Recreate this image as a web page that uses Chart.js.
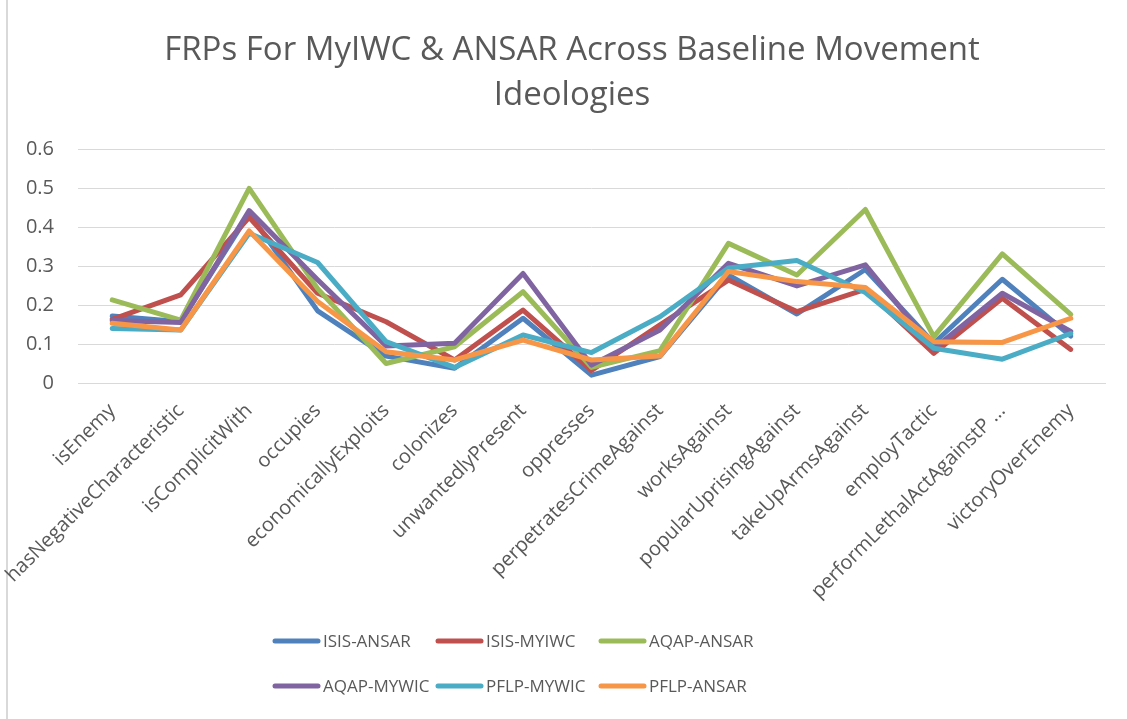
<!DOCTYPE html>
<html>
<head>
<meta charset="utf-8">
<title>FRPs For MyIWC & ANSAR</title>
<script src="https://cdn.jsdelivr.net/npm/chart.js@4.4.1/dist/chart.umd.min.js"></script>
<style>
  html, body { margin: 0; padding: 0; background: #fff; }
  #wrap { width: 1127px; height: 719px; position: relative; }
</style>
</head>
<body>
<div id="wrap"><canvas id="chart"></canvas></div>
<script>
const categories = [
  'isEnemy', 'hasNegativeCharacteristic', 'isComplicitWith', 'occupies',
  'economicallyExploits', 'colonizes', 'unwantedlyPresent', 'oppresses',
  'perpetratesCrimeAgainst', 'worksAgainst', 'popularUprisingAgainst',
  'takeUpArmsAgainst', 'employTactic', 'performLethalActAgainstP …', 'victoryOverEnemy'
];

const isisAnsar  = [0.172, 0.157, 0.435, 0.185, 0.069, 0.038, 0.166, 0.020, 0.068, 0.277, 0.177, 0.291, 0.102, 0.266, 0.120];
const isisMyiwc  = [0.163, 0.226, 0.425, 0.230, 0.157, 0.059, 0.187, 0.032, 0.149, 0.264, 0.183, 0.240, 0.076, 0.217, 0.086];
const aqapAnsar  = [0.213, 0.161, 0.499, 0.242, 0.050, 0.093, 0.234, 0.040, 0.083, 0.358, 0.277, 0.445, 0.119, 0.331, 0.176];
const aqapMywic  = [0.160, 0.155, 0.442, 0.265, 0.095, 0.102, 0.281, 0.046, 0.136, 0.307, 0.249, 0.303, 0.088, 0.230, 0.132];
const pflpMywic  = [0.140, 0.136, 0.384, 0.309, 0.106, 0.040, 0.123, 0.078, 0.170, 0.295, 0.314, 0.232, 0.089, 0.061, 0.127];
const pflpAnsar  = [0.153, 0.136, 0.390, 0.209, 0.080, 0.059, 0.110, 0.059, 0.069, 0.286, 0.260, 0.245, 0.106, 0.104, 0.166];

const seriesNames = ['ISIS-ANSAR', 'ISIS-MYIWC', 'AQAP-ANSAR', 'AQAP-MYWIC', 'PFLP-MYWIC', 'PFLP-ANSAR'];
const seriesValues = [isisAnsar, isisMyiwc, aqapAnsar, aqapMywic, pflpMywic, pflpAnsar];
const seriesColors = ['#4F81BD', '#C0504D', '#9BBB59', '#8064A2', '#4BACC6', '#F79646'];

const titleLines = ['FRPs For MyIWC & ANSAR Across Baseline Movement', 'Ideologies'];

const FONT = "'Open Sans', 'DejaVu Sans', sans-serif";
const GREY_TEXT = '#595959';
const GRID = '#d9d9d9';

// later series sit on top, like the original
const datasets = seriesNames.map((name, i) => ({
  label: name,
  data: seriesValues[i],
  borderColor: seriesColors[i],
  backgroundColor: seriesColors[i],
  borderWidth: 5,
  borderCapStyle: 'round',
  borderJoinStyle: 'round',
  pointRadius: 0,
  pointHoverRadius: 0,
  tension: 0,
  fill: false,
  order: seriesNames.length - i,
}));

// white page, thin frame line on the left, and the two-line title
const backdrop = {
  id: 'backdrop',
  beforeDraw(chart) {
    const ctx = chart.ctx;
    ctx.save();
    ctx.fillStyle = '#fff';
    ctx.fillRect(0, 0, chart.width, chart.height);
    ctx.strokeStyle = GRID;
    ctx.lineWidth = 2;
    ctx.beginPath();
    ctx.moveTo(7, 0);
    ctx.lineTo(7, chart.height);
    ctx.stroke();

    ctx.fillStyle = GREY_TEXT;
    ctx.font = '33px ' + FONT;
    ctx.textAlign = 'center';
    ctx.textBaseline = 'middle';
    titleLines.forEach((t, i) => ctx.fillText(t, 572, 51 + i * 45));
    ctx.restore();
  }
};

// legend in a 3 x 2 grid under the axis
const gridLegend = {
  id: 'gridLegend',
  afterDraw(chart) {
    const ctx = chart.ctx;
    const x0 = 275, y0 = 641, colStep = 163, rowStep = 45, lineLen = 43;
    ctx.save();
    ctx.font = '17px ' + FONT;
    ctx.textBaseline = 'middle';
    ctx.textAlign = 'left';
    chart.data.datasets.forEach((ds, i) => {
      const x = x0 + (i % 3) * colStep;
      const y = y0 + Math.floor(i / 3) * rowStep;
      ctx.strokeStyle = ds.borderColor;
      ctx.lineWidth = 5;
      ctx.lineCap = 'round';
      ctx.beginPath();
      ctx.moveTo(x, y);
      ctx.lineTo(x + lineLen, y);
      ctx.stroke();
      ctx.fillStyle = GREY_TEXT;
      ctx.fillText(ds.label, x + lineLen + 5, y + 1);
    });
    ctx.restore();
  }
};

new Chart(document.getElementById('chart'), {
  type: 'line',
  data: { labels: categories, datasets },
  plugins: [backdrop, gridLegend],
  options: {
    responsive: true,
    maintainAspectRatio: false,
    animation: false,
    layout: { padding: { left: 0, right: 22, top: 149, bottom: 106 } },
    plugins: {
      legend: { display: false },
      tooltip: { enabled: false },
      title: { display: false },
    },
    scales: {
      x: {
        offset: true,
        grid: { display: false, drawTicks: false },
        border: { display: true, color: GRID, width: 1 },
        ticks: {
          color: GREY_TEXT,
          font: { family: FONT, size: 20 },
          minRotation: 45,
          maxRotation: 45,
          autoSkip: false,
          padding: 16,
        },
        afterFit(scale) { scale.height = 230; },
      },
      y: {
        min: 0,
        max: 0.6,
        grid: { color: GRID, lineWidth: 1, drawTicks: false },
        border: { display: false },
        ticks: {
          stepSize: 0.1,
          color: GREY_TEXT,
          font: { family: FONT, size: 20 },
          padding: 24,
        },
        afterFit(scale) { scale.width = 78; },
      },
    },
  },
});
</script>
</body>
</html>
